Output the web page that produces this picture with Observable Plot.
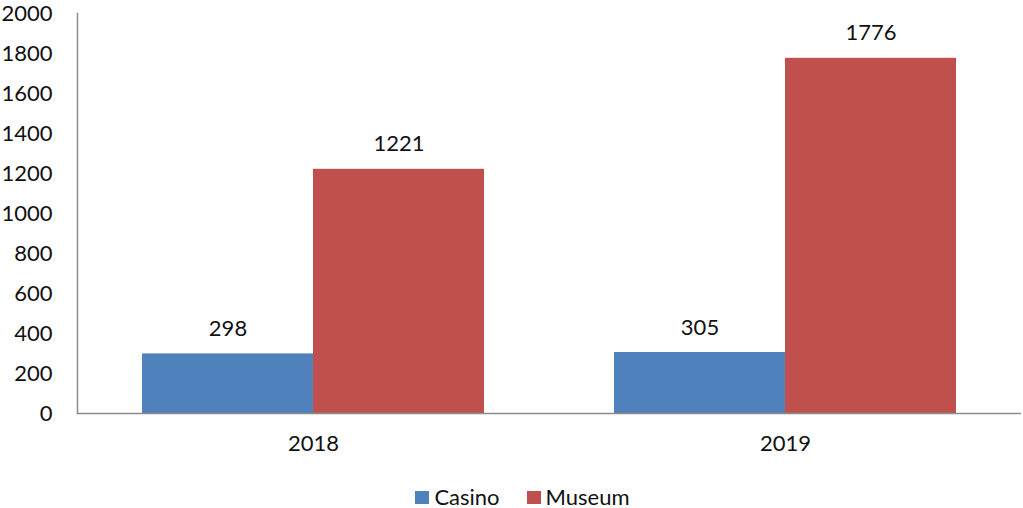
<!DOCTYPE html>
<html>
<head>
<meta charset="utf-8">
<script src="https://cdn.jsdelivr.net/npm/d3@7"></script>
<script src="https://cdn.jsdelivr.net/npm/@observablehq/plot@0.6"></script>
<style>
  html, body { margin: 0; padding: 0; background: #fff; }
  body { width: 1023px; height: 508px; overflow: hidden; font-family: Lato, "Open Sans", sans-serif; }
  #legend { display: flex; justify-content: center; align-items: center; gap: 27px; height: 52px; font-size: 22px; color: #111; padding-left: 22px; }
  .item { display: flex; align-items: center; gap: 5px; }
  .sw { width: 14px; height: 13px; display: inline-block; margin-top: 2px; }
</style>
</head>
<body>
<div id="chart"></div>
<div id="legend"></div>
<script>
const years = ["2018", "2019"];
const series = ["Casino", "Museum"];
const casino = [298, 305];
const museum = [1221, 1776];
const colors = ["#4F81BD", "#C0504D"];
const yTicks = [0, 200, 400, 600, 800, 1000, 1200, 1400, 1600, 1800, 2000];

const data = [];
years.forEach((yr, i) => {
  data.push({year: yr, series: "Casino", value: casino[i]});
  data.push({year: yr, series: "Museum", value: museum[i]});
});

const plot = Plot.plot({
  width: 1023,
  height: 470,
  marginLeft: 77,
  marginRight: 2,
  marginTop: 13,
  marginBottom: 57,
  style: {fontFamily: "Lato, 'Open Sans', sans-serif", fontSize: "22px", color: "#111", background: "#fff"},
  fx: {domain: years, paddingInner: 0, paddingOuter: 0, label: null},
  x: {domain: series, paddingInner: 0, paddingOuter: 0.376, axis: null},
  y: {domain: [0, 2000], label: null},
  color: {domain: series, range: colors},
  marks: [
    Plot.axisY({ticks: yTicks, tickFormat: d => String(d), tickSize: 0, tickPadding: 25, fontSize: 22, label: null}),
    Plot.axisFx({anchor: "bottom", tickSize: 0, tickPadding: 22, fontSize: 22, label: null}),
    Plot.barY(data, {fx: "year", x: "series", y: "value", fill: "series", inset: 0}),
    Plot.text(data, {fx: "year", x: "series", y: "value", text: d => String(d.value), dy: -25, fontSize: 22, fill: "#111"}),
    Plot.ruleY([0], {stroke: "#8c8c8c", strokeWidth: 1.5}),
    Plot.frame({anchor: "left", facet: "super", stroke: "#8c8c8c", strokeWidth: 1.5})
  ]
});
document.getElementById("chart").appendChild(plot);

const legend = document.getElementById("legend");
series.forEach((s, i) => {
  const item = document.createElement("div");
  item.className = "item";
  const sw = document.createElement("span");
  sw.className = "sw";
  sw.style.background = colors[i];
  const t = document.createElement("span");
  t.textContent = s;
  item.appendChild(sw);
  item.appendChild(t);
  legend.appendChild(item);
});
</script>
</body>
</html>
